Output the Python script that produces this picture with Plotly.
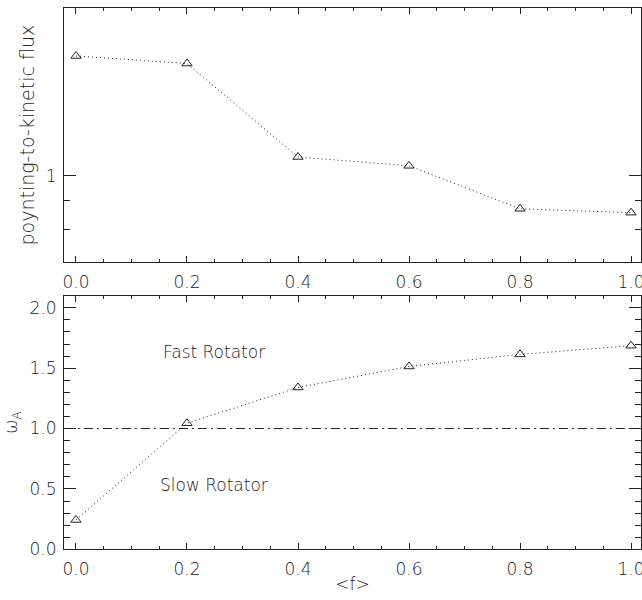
import plotly.graph_objects as go

f_vals = [0.0, 0.2, 0.4, 0.6, 0.8, 1.0]
flux_ratio = [1.647, 1.596, 1.081, 1.042, 0.871, 0.857]
omega_a = [0.243, 1.044, 1.34, 1.514, 1.614, 1.686]
x_ticks = [0.0, 0.2, 0.4, 0.6, 0.8, 1.0]
x_ticktext = ["0.0", "0.2", "0.4", "0.6", "0.8", "1.0"]
top_ticks = [1.0]
top_minor = [0.8, 0.9]
bot_ticks = [0.0, 0.5, 1.0, 1.5, 2.0]
bot_ticktext = ["0.0", "0.5", "1.0", "1.5", "2.0"]

FONT = dict(family="DejaVu Sans", size=17, color="#222222", weight=300)
TFONT = dict(family="DejaVu Sans", size=19, color="#222222", weight=300)
INK = "#222222"

fig = go.Figure()
fig.add_trace(go.Scatter(x=f_vals, y=flux_ratio, mode="lines+markers",
                         line=dict(color=INK, width=1, dash="1px,3px"),
                         marker=dict(symbol="triangle-up-open", size=9,
                                     color=INK, line=dict(width=1, color=INK)),
                         xaxis="x", yaxis="y", showlegend=False))
fig.add_trace(go.Scatter(x=f_vals, y=omega_a, mode="lines+markers",
                         line=dict(color=INK, width=1, dash="1px,3px"),
                         marker=dict(symbol="triangle-up-open", size=9,
                                     color=INK, line=dict(width=1, color=INK)),
                         xaxis="x2", yaxis="y2", showlegend=False))
fig.add_trace(go.Scatter(x=[-0.02, 1.02], y=[1.0, 1.0], mode="lines",
                         line=dict(color=INK, width=1, dash="9px,4px,2px,4px"),
                         xaxis="x2", yaxis="y2", showlegend=False, hoverinfo="skip"))

xd = [64 / 642, 641 / 642]
common_x = dict(range=[-0.0216, 1.018], tickvals=x_ticks, ticktext=x_ticktext,
                ticks="inside", ticklen=6, tickwidth=1, tickcolor=INK,
                showline=True, linecolor=INK, linewidth=1.2, mirror="ticks",
                showgrid=False, zeroline=False, tickfont=FONT,
                automargin=False, ticklabeloverflow="allow", ticklabelstandoff=4,
                minor=dict(dtick=0.05, tick0=0, ticks="inside", ticklen=3,
                           tickcolor=INK, showgrid=False))

fig.update_layout(
    width=642, height=600,
    margin=dict(l=0, r=0, t=0, b=0),
    paper_bgcolor="white", plot_bgcolor="white",
    font=FONT,
    xaxis=dict(domain=xd, anchor="y", **common_x),
    yaxis=dict(domain=[1 - 262 / 600, 1 - 8.3 / 600], anchor="x", type="log",
               range=[-0.1563, 0.303], tickvals=top_ticks, ticktext=["1"],
               ticks="inside", ticklen=12, tickwidth=1, tickcolor=INK,
               showline=True, linecolor=INK, linewidth=1.2, mirror="ticks",
               showgrid=False, zeroline=False, tickfont=FONT, automargin=False,
               ticklabelstandoff=3,
               minor=dict(tickvals=top_minor, ticks="inside", ticklen=6,
                          tickcolor=INK, showgrid=False),
               title=dict(text="poynting-to-kinetic flux", font=TFONT, standoff=6)),
    xaxis2=dict(domain=xd, anchor="y2",
                title=dict(text="&lt;f&gt;", font=FONT, standoff=0), **common_x),
    yaxis2=dict(domain=[1 - 549.3 / 600, 1 - 295.7 / 600], anchor="x2",
                range=[0, 2.1], tickvals=bot_ticks, ticktext=bot_ticktext,
                ticks="inside", ticklen=12, tickwidth=1, tickcolor=INK,
                showline=True, linecolor=INK, linewidth=1.2, mirror="ticks",
                showgrid=False, zeroline=False, tickfont=FONT, automargin=False,
                ticklabelstandoff=3,
                minor=dict(dtick=0.1, tick0=0, ticks="inside", ticklen=6,
                           tickcolor=INK, showgrid=False),
                title=dict(text="ω<sub>A</sub>", font=FONT, standoff=7)),
    annotations=[
        dict(x=0.249, y=1.63, xref="x2", yref="y2", text="Fast Rotator",
             showarrow=False, font=FONT),
        dict(x=0.249, y=0.536, xref="x2", yref="y2", text="Slow Rotator",
             showarrow=False, font=FONT),
    ],
)

fig.write_html("out.html")
